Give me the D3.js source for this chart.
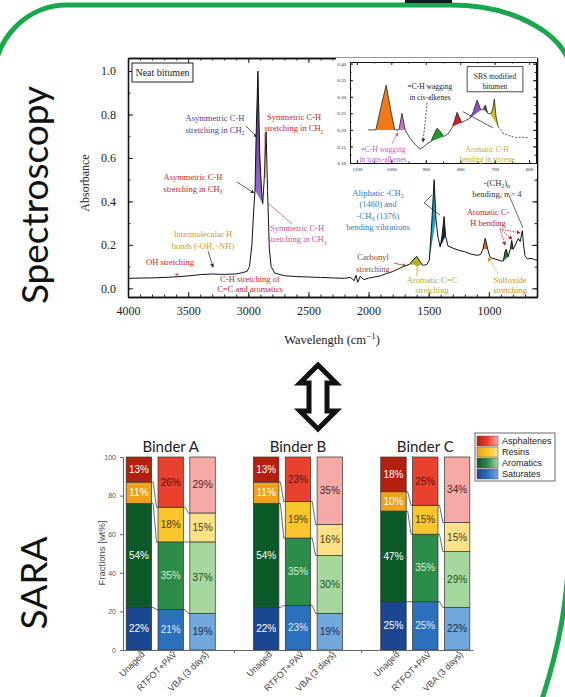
<!DOCTYPE html>
<html>
<head>
<meta charset="utf-8">
<script src="https://cdn.jsdelivr.net/npm/d3@7"></script>
<style>
  body { margin: 0; background: #fff; }
</style>
</head>
<body>
<div id="chart"></div>
<script>
// ---- FTIR spectrum of neat bitumen (wavenumber, absorbance) ----
const specWn = [4000,3900,3800,3700,3600,3500,3400,3300,3200,3100,3050,3010,2990,2970,2955,2944,2935,2920,2905,2890,2880,2868,2852,2840,2825,2810,2780,2700,2600,2500,2400,2300,2200,2150,2120,2105,2090,2070,2040,2000,1950,1900,1850,1800,1750,1700,1660,1630,1600,1575,1545,1515,1495,1475,1455,1440,1425,1405,1390,1372,1360,1340,1300,1250,1200,1150,1100,1070,1050,1030,1010,990,950,900,880,865,855,840,822,810,798,780,755,740,722,712,700,680,650,620,600];
const specAbs = [0.046,0.047,0.048,0.05,0.053,0.057,0.063,0.066,0.064,0.066,0.072,0.078,0.1,0.2,0.36,0.45,0.7,1.0,0.62,0.45,0.39,0.5,0.72,0.45,0.18,0.1,0.07,0.058,0.054,0.052,0.05,0.048,0.046,0.05,0.035,0.06,0.028,0.055,0.04,0.047,0.052,0.058,0.068,0.077,0.09,0.103,0.11,0.13,0.147,0.125,0.105,0.11,0.13,0.3,0.5,0.32,0.24,0.19,0.24,0.33,0.24,0.195,0.185,0.175,0.168,0.158,0.152,0.155,0.18,0.23,0.18,0.142,0.135,0.126,0.126,0.17,0.18,0.145,0.18,0.22,0.18,0.2,0.23,0.215,0.265,0.2,0.15,0.135,0.138,0.132,0.13];
// highlighted bands in the main spectrum [from, to]
const mainBands = [[2944,2880],[1660,1545],[1495,1440],[1405,1360],[1050,1010],[880,840],[822,798]];
const mainBandColors = ['url(#purp)','#a9b522','#1ca3c6','#1d2b33','#e6791c','#2b8c2b','#c41e2a'];

// ---- inset: SBS modified bitumen, 1100-600 cm-1 ----
const insetWn = [1068,1045,1030,1015,1000,990,978,969,960,946,930,917,905,897,885,875,867,858,848,835,822,809,796,785,772,762,751,740,733,727,720,712,706,701,696,690,675,660,640,620,600];
const insetAbs = [0.2,0.2,0.27,0.335,0.25,0.2,0.2,0.25,0.2,0.175,0.155,0.142,0.15,0.157,0.165,0.19,0.205,0.195,0.18,0.188,0.21,0.253,0.222,0.228,0.235,0.255,0.29,0.26,0.262,0.275,0.25,0.248,0.26,0.293,0.24,0.21,0.19,0.183,0.177,0.178,0.176];
const insetBands = [[1045,990],[978,960],[885,848],[822,796],[772,740],[733,720],[712,690]];
const insetBandColors = ['#f07a1a','#cf72cc','#229a2a','#d01f2a','#8a50c2','#6b4a3a','#c9c022'];

// ---- SARA fractions (wt%) ----
const binders = ['Binder A','Binder B','Binder C'];
const agings = ['Unaged','RTFOT+PAV','VBA (3 days)'];
const fractions = ['Saturates','Aromatics','Resins','Asphaltenes'];
const saturates   = [22,21,19, 22,23,19, 25,25,22];
const aromatics   = [54,35,37, 54,35,30, 47,35,29];
const resins      = [11,18,15, 11,19,16, 10,15,15];
const asphaltenes = [13,26,29, 13,23,35, 18,25,34];

const shades = {
  Asphaltenes: ['#b3200f','#e8412d','#f6aaa6'],
  Resins:      ['#f0a21a','#f9c72b','#fde188'],
  Aromatics:   ['#0c5a2a','#2e8c4a','#a6d89d'],
  Saturates:   ['#1b4690','#2b70ba','#72a8dc']
};
const labelInk = {
  Asphaltenes: ['#fff','#5a0f0f','#4a2323'],
  Resins:      ['#fff','#4a3a10','#4a4020'],
  Aromatics:   ['#fff','#d6f0d6','#234a23'],
  Saturates:   ['#fff','#e2ecff','#1c2c50']
};

const W = 565, H = 697;
const serif = 'Liberation Serif, Times New Roman, serif';
const sans = 'Liberation Sans, Arial, sans-serif';

const svg = d3.select('#chart').append('svg')
  .attr('width', W).attr('height', H).style('display', 'block');
svg.append('rect').attr('width', W).attr('height', H).attr('fill', '#fff');

const defs = svg.append('defs');
const grad = defs.append('linearGradient').attr('id', 'purp')
  .attr('x1', 0).attr('y1', 0).attr('x2', 0).attr('y2', 1);
grad.append('stop').attr('offset', '0%').attr('stop-color', '#3e2478');
grad.append('stop').attr('offset', '100%').attr('stop-color', '#9d70d8');
fractions.forEach(f => {
  const lg = defs.append('linearGradient').attr('id', 'lg-' + f);
  shades[f].forEach((c, j) => lg.append('stop').attr('offset', (j * 50) + '%').attr('stop-color', c));
});
defs.append('marker').attr('id', 'arr').attr('viewBox', '0 0 6 6')
  .attr('refX', 5).attr('refY', 3).attr('markerWidth', 5).attr('markerHeight', 5)
  .attr('orient', 'auto')
  .append('path').attr('d', 'M0,0 L6,3 L0,6 Z').attr('fill', 'context-stroke');

// green frame
svg.append('path')
  .attr('d', 'M -6,760 L -6,80 A 73 75 0 0 1 67,5 L 450,5 A 122 72 0 0 1 572,77 L 572,470 C 572,600 560,660 520,760')
  .attr('fill', 'none').attr('stroke', '#1aa64c').attr('stroke-width', 5);
svg.append('rect').attr('x', 405).attr('y', 0).attr('width', 47).attr('height', 3).attr('fill', '#0f1c1f');

// side titles
svg.append('text').attr('transform', 'translate(48,195) rotate(-90)')
  .attr('text-anchor', 'middle').attr('font-family', 'Lato, sans-serif')
  .attr('font-size', 37).attr('fill', '#111').text('Spectroscopy');
svg.append('text').attr('transform', 'translate(47,583) rotate(-90)')
  .attr('text-anchor', 'middle').attr('font-family', 'Lato, sans-serif')
  .attr('font-size', 37).attr('fill', '#111').text('SARA');

// ================= spectroscopy =================
const sx = d3.scaleLinear().domain([4000, 600]).range([128, 537]);
const sy = d3.scaleLinear().domain([-0.04, 1.06]).range([297, 58]);
const spec = d3.zip(specWn, specAbs);

const upper = svg.append('g');
upper.append('rect').attr('x', 128).attr('y', 58).attr('width', 409).attr('height', 239).attr('fill', '#fff');

function bandPath(data, band, xs, ys) {
  const pts = data.filter(d => d[0] <= band[0] && d[0] >= band[1]);
  return d3.line().x(d => xs(d[0])).y(d => ys(d[1]))(pts) + 'Z';
}
upper.selectAll('path.band').data(mainBands).join('path').attr('class', 'band')
  .attr('d', b => bandPath(spec, b, sx, sy))
  .attr('fill', (b, i) => mainBandColors[i]);
upper.append('path').datum(spec)
  .attr('d', d3.line().x(d => sx(d[0])).y(d => sy(d[1])))
  .attr('fill', 'none').attr('stroke', '#111').attr('stroke-width', 1);

function boxAxes(g, xs, ys, o) {
  const [x0, x1] = xs.range(), [y0, y1] = ys.range();
  const style = a => a.attr('font-family', serif).attr('font-size', o.fs).attr('color', '#222');
  g.append('g').attr('transform', `translate(0,${y0})`)
    .call(d3.axisBottom(xs).tickValues(o.xMinor).tickSize(-o.minor).tickSizeOuter(0).tickFormat(''));
  g.append('g').attr('transform', `translate(0,${y0})`)
    .call(d3.axisBottom(xs).tickValues(o.xMajor).tickSize(-o.major).tickSizeOuter(0).tickPadding(o.xpad).tickFormat(d3.format('d')))
    .call(style);
  g.append('g').attr('transform', `translate(0,${y1})`)
    .call(d3.axisTop(xs).tickValues(o.xMinor).tickSize(-o.minor).tickSizeOuter(0).tickFormat(''));
  g.append('g').attr('transform', `translate(0,${y1})`)
    .call(d3.axisTop(xs).tickValues(o.xMajor).tickSize(-o.major).tickSizeOuter(0).tickFormat(''));
  g.append('g').attr('transform', `translate(${x0},0)`)
    .call(d3.axisLeft(ys).tickValues(o.yMinor).tickSize(-o.minor).tickSizeOuter(0).tickFormat(''));
  g.append('g').attr('transform', `translate(${x0},0)`)
    .call(d3.axisLeft(ys).tickValues(o.yMajor).tickSize(-o.major).tickSizeOuter(0).tickPadding(o.ypad).tickFormat(d3.format(o.yfmt)))
    .call(style);
  g.append('g').attr('transform', `translate(${x1},0)`)
    .call(d3.axisRight(ys).tickValues(o.yMinor).tickSize(-o.minor).tickSizeOuter(0).tickFormat(''));
  g.append('g').attr('transform', `translate(${x1},0)`)
    .call(d3.axisRight(ys).tickValues(o.yMajor).tickSize(-o.major).tickSizeOuter(0).tickFormat(''));
  g.selectAll('.domain').attr('stroke', '#111').attr('stroke-width', o.sw);
  g.selectAll('.tick line').attr('stroke', '#222');
}

boxAxes(upper.append('g'), sx, sy, {
  xMajor: d3.range(4000, 999, -500), xMinor: d3.range(4000, 600, -100),
  yMajor: [0, 0.2, 0.4, 0.6, 0.8, 1.0], yMinor: d3.range(0, 1.05, 0.1),
  major: 5, minor: 2.5, xpad: 9, ypad: 12, yfmt: '.1f', fs: 12, sw: 1.3
});

upper.append('text').attr('transform', 'translate(89,183) rotate(-90)')
  .attr('text-anchor', 'middle').attr('font-family', serif).attr('font-size', 12)
  .attr('fill', '#222').text('Absorbance');
const xt = upper.append('text').attr('x', 332).attr('y', 344).attr('text-anchor', 'middle')
  .attr('font-family', serif).attr('font-size', 12.5).attr('fill', '#222');
xt.append('tspan').text('Wavelength (cm');
xt.append('tspan').attr('dy', -5).attr('font-size', 9).text('\u22121');
xt.append('tspan').attr('dy', 5).text(')');

// neat bitumen tag
upper.append('rect').attr('x', 132).attr('y', 63).attr('width', 61).attr('height', 19)
  .attr('fill', '#fff').attr('stroke', '#222').attr('stroke-width', 1);
upper.append('text').attr('x', 162.5).attr('y', 76).attr('text-anchor', 'middle')
  .attr('font-family', serif).attr('font-size', 10).attr('fill', '#222').text('Neat bitumen');

function addText(g, lines, x, y, color, size, lh) {
  lines.forEach((ln, i) => {
    const t = g.append('text').attr('x', x).attr('y', y + i * lh).attr('text-anchor', 'middle')
      .attr('font-family', serif).attr('font-size', size).attr('fill', color);
    let shifted = false;
    ln.split(/(_\w+)/).forEach(part => {
      if (!part) return;
      if (part[0] === '_') {
        t.append('tspan').attr('font-size', size * 0.7).attr('dy', shifted ? 0 : size * 0.25).text(part.slice(1));
        shifted = true;
      } else {
        t.append('tspan').attr('dy', shifted ? -size * 0.25 : 0).text(part);
        shifted = false;
      }
    });
  });
}
function pointer(g, p, q, color, dash, head) {
  g.append('line').attr('x1', p[0]).attr('y1', p[1]).attr('x2', q[0]).attr('y2', q[1])
    .attr('stroke', color).attr('stroke-width', 0.8)
    .attr('stroke-dasharray', dash || null)
    .attr('marker-end', head === false ? null : 'url(#arr)');
}
const P = (wn, v) => [sx(wn), sy(v)];

// annotations (data coordinates of the spectrum)
const notes = upper.append('g');
addText(notes, ['Asymmetric C-H', 'stretching in CH_2'], sx(3277), sy(0.77), '#4a3d96', 8.5, 11.5);
pointer(notes, P(3019, 0.747), P(2928, 0.696), '#333');
addText(notes, ['Symmetric C-H', 'stretching in CH_2'], sx(2620), sy(0.775), '#c1272d', 8.5, 11.5);
pointer(notes, P(2861, 0.715), P(2861, 0.508), '#c1272d', null, false);
addText(notes, ['Asymmetric C-H', 'stretching in CH_3'], sx(3460), sy(0.498), '#c1272d', 8.5, 11.5);
pointer(notes, P(3094, 0.489), P(2953, 0.439), '#333');
addText(notes, ['Symmetric C-H', 'stretching in CH_3'], sx(2595), sy(0.264), '#c2559a', 8.5, 11.5);
pointer(notes, P(2836, 0.393), P(2637, 0.296), '#c2559a', null, false);
addText(notes, ['Intermolecular H', 'bonds (-OH, -NH)'], sx(3377), sy(0.236), '#d5962a', 8.5, 11.5);
pointer(notes, P(3335, 0.172), P(3293, 0.098), '#333');
addText(notes, ['OH stretching'], sx(3651), sy(0.107), '#c1272d', 8.5, 11.5);
addText(notes, ['*'], sx(3593), sy(0.045), '#c1272d', 9, 10);
addText(notes, ['C-H stretching of', 'C=C and aromatics'], sx(2986), sy(0.029), '#c1272d', 8.5, 10);

addText(notes, ['Aliphatic -CH_2', '(1460) and', '-CH_3 (1376)', 'bending vibrations'], sx(1922), sy(0.425), '#2f7bbf', 8.5, 11.5);
pointer(notes, P(1539, 0.393), P(1473, 0.429), '#333', null, false);
pointer(notes, P(1539, 0.393), P(1406, 0.337), '#333', null, false);
addText(notes, ['-(CH_2)_n', 'bending, n > 4'], sx(933), sy(0.471), '#333', 8.5, 11.5);
pointer(notes, P(841, 0.439), P(716, 0.278), '#444', null, false);
addText(notes, ['Aromatic C-', 'H bending'], sx(1007), sy(0.337), '#c0202a', 8.5, 11);
[[866, 0.199], [808, 0.227], [741, 0.255]].forEach(t =>
  pointer(notes, P(907, 0.273), P(t[0], t[1]), '#c0202a', '1.5,1'));
addText(notes, ['Carbonyl', 'stretching'], sx(1963), sy(0.13), '#8a4a2a', 8.5, 12);
pointer(notes, P(1789, 0.116), P(1689, 0.103), '#8a4a2a');
addText(notes, ['Aromatic C=C', 'stretching'], sx(1473), sy(0.024), '#b0ae2a', 8.5, 10);
pointer(notes, P(1598, 0.057), P(1598, 0.118), '#b0ae2a');
addText(notes, ['Sulfoxide', 'stretching'], sx(824), sy(0.024), '#e08a20', 8.5, 10);
pointer(notes, P(924, 0.07), P(1007, 0.14), '#e08a20', '1.5,1');

// ---- inset ----
const ix = d3.scaleLinear().domain([1120, 580]).range([350, 536]);
const iy = d3.scaleLinear().domain([0.1, 0.405]).range([163, 62]);
const inset = upper.append('g');
inset.append('rect').attr('x', 336).attr('y', 58).attr('width', 201).attr('height', 120).attr('fill', '#fff');
const ins = d3.zip(insetWn, insetAbs);
inset.selectAll('path.band').data(insetBands).join('path').attr('class', 'band')
  .attr('d', b => bandPath(ins, b, ix, iy))
  .attr('fill', (b, i) => insetBandColors[i]);
inset.append('path').datum(ins.filter(d => d[0] >= 690))
  .attr('d', d3.line().x(d => ix(d[0])).y(d => iy(d[1])))
  .attr('fill', 'none').attr('stroke', '#222').attr('stroke-width', 0.8);
inset.append('path').datum(ins.filter(d => d[0] <= 690))
  .attr('d', d3.line().x(d => ix(d[0])).y(d => iy(d[1])))
  .attr('fill', 'none').attr('stroke', '#333').attr('stroke-width', 0.8).attr('stroke-dasharray', '2,1.5');
boxAxes(inset.append('g'), ix, iy, {
  xMajor: d3.range(1100, 599, -100), xMinor: d3.range(1100, 580, -50),
  yMajor: d3.range(0.1, 0.41, 0.05), yMinor: d3.range(0.1, 0.41, 0.025),
  major: 3, minor: 1.5, xpad: 4, ypad: 4, yfmt: '.2f', fs: 5, sw: 1
});
const I = (wn, v) => [ix(wn), iy(v)];
inset.append('rect').attr('x', ix(780)).attr('y', iy(0.391)).attr('width', ix(618) - ix(780))
  .attr('height', iy(0.315) - iy(0.391)).attr('fill', '#fff').attr('stroke', '#222').attr('stroke-width', 0.8);
addText(inset, ['SBS modified', 'bitumen'], ix(699), iy(0.355), '#222', 7.5, 10.5);
addText(inset, ['=C-H wagging', 'in cis-alkenes'], ix(888), iy(0.324), '#222', 7.5, 11);
pointer(inset, I(896, 0.282), I(908, 0.164), '#333', '2,1.5');
addText(inset, ['=C-H wagging', 'in trans-alkenes'], ix(1024), iy(0.133), '#c060c0', 7.5, 10);
pointer(inset, I(998, 0.158), I(981, 0.191), '#c060c0');
addText(inset, ['Aromatic C-H', 'bending in styrene'], ix(722), iy(0.133), '#b8b030', 7.5, 10);
pointer(inset, I(792, 0.255), I(705, 0.206), '#333', null, false);

// ================= double arrow =================
svg.append('path')
  .attr('d', 'M318,365 L336,383 L327,383 L327,411 L336,411 L318,429 L300,411 L309,411 L309,383 L300,383 Z')
  .attr('fill', '#fff').attr('stroke', '#111').attr('stroke-width', 5).attr('stroke-linejoin', 'miter');

// ================= SARA =================
const slots = [];
binders.forEach((b, bi) => {
  agings.forEach(a => slots.push(b + '|' + a));
  if (bi < binders.length - 1) slots.push(b + '|gap');
});
const rows = [];
binders.forEach((b, bi) => agings.forEach((a, ai) => {
  const k = bi * 3 + ai;
  rows.push({ key: b + '|' + a, binder: b, aging: ai,
    Saturates: saturates[k], Aromatics: aromatics[k], Resins: resins[k], Asphaltenes: asphaltenes[k] });
}));
const stack = d3.stack().keys(fractions)(rows);

const bx = d3.scaleBand().domain(slots).range([123, 473]).paddingInner(0.2).paddingOuter(0.1);
const by = d3.scaleLinear().domain([0, 100]).range([650, 457]);
const bw = bx.bandwidth();
const sara = svg.append('g');

// connectors between bars
binders.forEach(b => {
  for (let i = 0; i < 2; i++) {
    for (let f = 0; f < 3; f++) {
      const s = stack[f];
      const d0 = s.find(d => d.data.key === b + '|' + agings[i]);
      const d1 = s.find(d => d.data.key === b + '|' + agings[i + 1]);
      sara.append('path')
        .attr('d', `M${bx(d0.data.key) + bw},${by(d0[1])} h1.5 L${bx(d1.data.key) - 1.5},${by(d1[1])} h1.5`)
        .attr('fill', 'none').attr('stroke', '#444').attr('stroke-width', 0.8);
    }
  }
});

stack.forEach(s => {
  const g = sara.append('g');
  g.selectAll('rect').data(s).join('rect')
    .attr('x', d => bx(d.data.key)).attr('width', bw)
    .attr('y', d => by(d[1])).attr('height', d => by(d[0]) - by(d[1]))
    .attr('fill', d => shades[s.key][d.data.aging])
    .attr('stroke', '#333').attr('stroke-width', 0.7);
  g.selectAll('text').data(s).join('text')
    .attr('x', d => bx(d.data.key) + bw / 2).attr('y', d => (by(d[0]) + by(d[1])) / 2)
    .attr('dy', '0.35em').attr('text-anchor', 'middle')
    .attr('font-family', sans).attr('font-size', 10)
    .attr('fill', d => labelInk[s.key][d.data.aging])
    .text(d => d.data[s.key] + '%');
});

const xa = sara.append('g').attr('transform', 'translate(0,650)')
  .call(d3.axisBottom(bx).tickSize(3).tickSizeOuter(0).tickFormat(k => k.endsWith('gap') ? '' : k.split('|')[1]));
xa.selectAll('text').attr('font-family', sans).attr('font-size', 9).attr('fill', '#444')
  .attr('text-anchor', 'end').attr('x', 1).attr('y', 5).attr('dy', '0.35em')
  .attr('transform', 'rotate(-45)');
const ya = sara.append('g').attr('transform', 'translate(123,0)')
  .call(d3.axisLeft(by).tickValues(d3.range(0, 101, 20)).tickSize(3).tickSizeOuter(0).tickPadding(4));
ya.selectAll('text').attr('font-family', sans).attr('font-size', 7).attr('fill', '#555');
sara.selectAll('.domain, .tick line').attr('stroke', '#666');

sara.append('text').attr('transform', 'translate(105,553) rotate(-90)').attr('text-anchor', 'middle')
  .attr('font-family', sans).attr('font-size', 9.5).attr('fill', '#444').text('Fractions [wt%]');

binders.forEach(b => {
  sara.append('text').attr('x', bx(b + '|' + agings[1]) + bw / 2).attr('y', 452)
    .attr('text-anchor', 'middle').attr('font-family', 'Lato, sans-serif').attr('font-size', 15)
    .attr('fill', '#222').text(b);
});

// legend
const leg = sara.append('g');
leg.append('rect').attr('x', 475).attr('y', 433).attr('width', 80).attr('height', 48)
  .attr('fill', '#fff').attr('stroke', '#444').attr('stroke-width', 0.8);
fractions.slice().reverse().forEach((f, i) => {
  const yy = 436 + i * 11;
  leg.append('rect').attr('x', 477).attr('y', yy).attr('width', 21).attr('height', 10)
    .attr('fill', `url(#lg-${f})`).attr('stroke', '#555').attr('stroke-width', 0.5);
  leg.append('text').attr('x', 502).attr('y', yy + 5).attr('dy', '0.35em')
    .attr('font-family', sans).attr('font-size', 9).attr('fill', '#222').text(f);
});
</script>
</body>
</html>
